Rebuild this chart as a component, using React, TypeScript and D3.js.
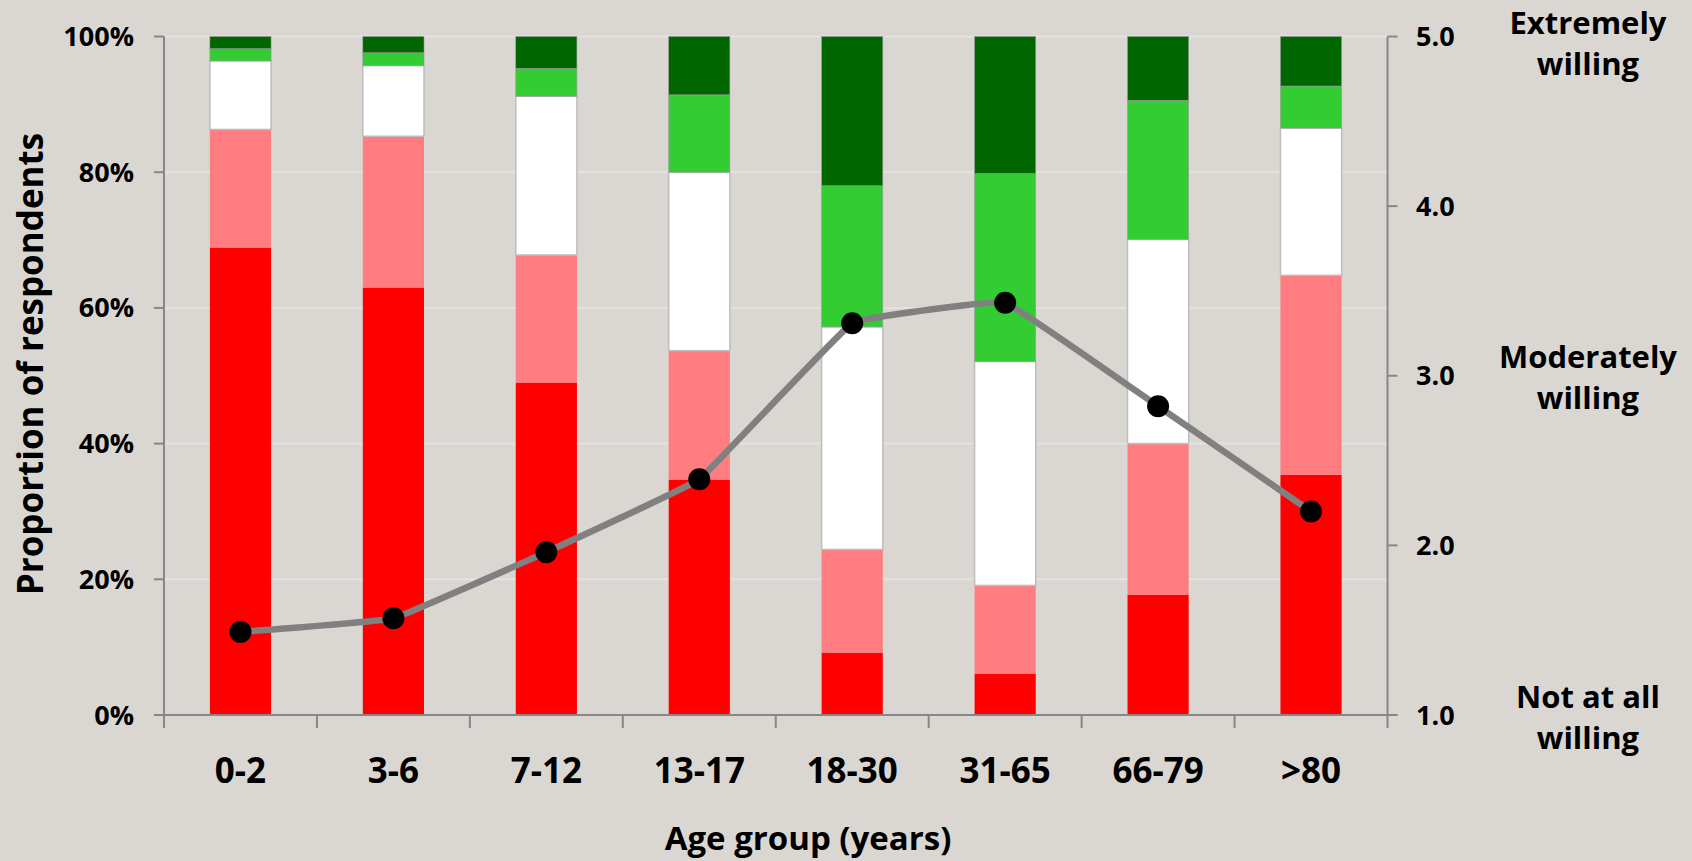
import React from "react";
import * as d3 from "d3";

// Age groups on the x axis
const categories = ["0-2", "3-6", "7-12", "13-17", "18-30", "31-65", "66-79", ">80"];

// Share of respondents (%) per willingness level, bottom to top of each stack
const notAtAll = [68.9, 63.0, 49.0, 34.7, 9.2, 6.1, 17.7, 35.4];
const slightly = [17.4, 22.3, 18.8, 19.0, 15.2, 13.0, 22.3, 29.4];
const moderately = [10.1, 10.4, 23.4, 26.3, 32.8, 33.0, 30.1, 21.7];
const very = [1.8, 1.9, 4.1, 11.4, 20.8, 27.7, 20.5, 6.2];
const extremely = [1.8, 2.4, 4.7, 8.6, 22.0, 20.2, 9.4, 7.3];

// Mean willingness score (1 = not at all, 5 = extremely)
const meanScore = [1.49, 1.57, 1.96, 2.39, 3.31, 3.43, 2.82, 2.2];

const leftTicks = [0, 20, 40, 60, 80, 100];
const rightTicks = [1, 2, 3, 4, 5];

const levelNames = ["notAtAll", "slightly", "moderately", "very", "extremely"];
const levelSeries = [notAtAll, slightly, moderately, very, extremely];
const levelColors = ["#ff0000", "#ff7c80", "#ffffff", "#33cc33", "#006600"];

const rightLabels = [
  { lines: ["Extremely", "willing"], baseline: 34 },
  { lines: ["Moderately", "willing"], baseline: 368 },
  { lines: ["Not at all", "willing"], baseline: 708 },
];

const W = 1692;
const H = 861;
const FONT = "'Open Sans', Lato, sans-serif";
const AXIS = "#878787";

export default function App() {
  const left = 164;
  const right = 1387.5;
  const top = 36.5;
  const bottom = 715;

  const x = d3
    .scaleBand<string>()
    .domain(categories)
    .range([left, right])
    .paddingInner(0.6)
    .paddingOuter(0.3);
  const step = x.step();
  const yL = d3.scaleLinear().domain([0, 100]).range([bottom, top]);
  const yR = d3.scaleLinear().domain([1, 5]).range([bottom, top]);

  const table = categories.map((c, i) => {
    const row: Record<string, any> = { cat: c };
    levelNames.forEach((n, k) => (row[n] = levelSeries[k][i]));
    return row;
  });
  const stacked = d3.stack().keys(levelNames)(table as any);

  const cx = (i: number) => (x(categories[i]) as number) + x.bandwidth() / 2;

  const line = d3
    .line<number>()
    .x((_, i) => cx(i))
    .y((d) => yR(d))
    .curve(d3.curveCardinal.tension(0.8));

  // category boundary ticks on the x axis
  const boundaries = d3.range(categories.length + 1).map((i) => left + i * step);

  return (
    <svg
      width={W}
      height={H}
      style={{ position: "absolute", left: 0, top: 0, display: "block" }}
      fontFamily={FONT}
      fontWeight={700}
    >
      <rect width={W} height={H} fill="#dad7d3" />

      {/* gridlines */}
      {leftTicks.map((t) => (
        <line key={"g" + t} x1={left} x2={right} y1={yL(t)} y2={yL(t)} stroke="#e4e2df" strokeWidth={2} />
      ))}

      {/* stacked bars */}
      {stacked.map((layer, k) => (
        <g key={levelNames[k]}>
          {layer.map((d, i) => (
            <rect
              key={i}
              x={x(categories[i])}
              y={yL(d[1])}
              width={x.bandwidth()}
              height={yL(d[0]) - yL(d[1])}
              fill={levelColors[k]}
              stroke={k === 2 ? "#bdbdbd" : k >= 3 ? "#9a9a9a" : "none"}
              strokeWidth={k === 2 ? 1.5 : 0.6}
            />
          ))}
        </g>
      ))}

      {/* axes */}
      <line x1={left} x2={left} y1={top} y2={bottom} stroke={AXIS} strokeWidth={2} />
      <line x1={right} x2={right} y1={top} y2={bottom} stroke={AXIS} strokeWidth={2} />
      <line x1={left - 10} x2={right + 10} y1={bottom} y2={bottom} stroke={AXIS} strokeWidth={2} />
      {leftTicks.map((t) => (
        <g key={"lt" + t}>
          <line x1={left - 10} x2={left} y1={yL(t)} y2={yL(t)} stroke={AXIS} strokeWidth={2} />
          <text x={134} y={yL(t) + 9.5} textAnchor="end" fontSize={27} fill="#000">
            {t + "%"}
          </text>
        </g>
      ))}
      {rightTicks.map((t) => (
        <g key={"rt" + t}>
          <line x1={right} x2={right + 10} y1={yR(t)} y2={yR(t)} stroke={AXIS} strokeWidth={2} />
          <text x={1416} y={yR(t) + 9.5} textAnchor="start" fontSize={27} fill="#000">
            {t.toFixed(1)}
          </text>
        </g>
      ))}
      {boundaries.map((bx, i) => (
        <line key={"xt" + i} x1={bx} x2={bx} y1={bottom} y2={bottom + 13} stroke={AXIS} strokeWidth={2} />
      ))}
      {categories.map((c, i) => (
        <text key={"xl" + c} x={cx(i)} y={783} textAnchor="middle" fontSize={35} fill="#000">
          {c}
        </text>
      ))}

      {/* mean score line */}
      <path d={line(meanScore) || ""} fill="none" stroke="#808080" strokeWidth={6.5} />
      {meanScore.map((v, i) => (
        <circle key={"m" + i} cx={cx(i)} cy={yR(v)} r={11} fill="#000" />
      ))}

      {/* axis titles */}
      <text x={808} y={850} textAnchor="middle" fontSize={33} fill="#000">
        Age group (years)
      </text>
      <text transform="translate(43, 364) rotate(-90)" textAnchor="middle" fontSize={35} fill="#000">
        Proportion of respondents
      </text>

      {/* willingness scale labels */}
      {rightLabels.map((l) => (
        <text key={l.lines[0]} textAnchor="middle" fontSize={31} fill="#000">
          <tspan x={1588} y={l.baseline}>
            {l.lines[0]}
          </tspan>
          <tspan x={1588} y={l.baseline + 41}>
            {l.lines[1]}
          </tspan>
        </text>
      ))}
    </svg>
  );
}
